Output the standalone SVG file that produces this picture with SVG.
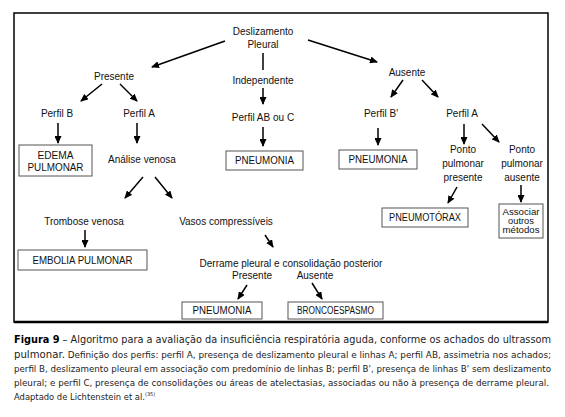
<svg xmlns="http://www.w3.org/2000/svg" width="565" height="417" viewBox="0 0 565 417">
<defs>
<marker id="ah" markerUnits="userSpaceOnUse" markerWidth="8" markerHeight="7" refX="7" refY="3.5" orient="auto">
<path d="M0,0 L8,3.5 L0,7 z" fill="#000"/>
</marker>
<style>
.t{font-family:"Liberation Sans",Arial,sans-serif;font-size:10px;fill:#111;text-anchor:middle}
.s{font-size:9.3px}
.u{font-size:10px}
.b{fill:#fff;stroke:#555;stroke-width:1}
.c line{stroke:#000;stroke-width:1.5}
.a{marker-end:url(#ah)}
.cap{font-family:"DejaVu Sans",sans-serif;fill:#222}
</style>
</defs>
<rect width="565" height="417" fill="#fff"/>
<rect x="14" y="13" width="534" height="309" fill="none" stroke="#000" stroke-width="1.5"/>
<line x1="14" y1="322" x2="548" y2="322" stroke="#000" stroke-width="2.5"/>

<g class="c">
<line class="a" x1="225" y1="41" x2="152" y2="67"/>
<line class="a" x1="308" y1="40" x2="377" y2="62"/>
<line x1="263" y1="53" x2="263" y2="70"/>
<line class="a" x1="263" y1="88" x2="263" y2="104"/>
<line class="a" x1="263" y1="127" x2="263" y2="146"/>
<line class="a" x1="102" y1="84" x2="81" y2="101"/>
<line class="a" x1="120" y1="84" x2="137" y2="101"/>
<line class="a" x1="58" y1="123" x2="58" y2="143"/>
<line class="a" x1="137" y1="123" x2="137" y2="143"/>
<line class="a" x1="143" y1="177" x2="125" y2="198"/>
<line class="a" x1="155" y1="177" x2="172" y2="198"/>
<line class="a" x1="85" y1="230" x2="85" y2="247"/>
<line class="a" x1="265" y1="235" x2="273" y2="247"/>
<line class="a" x1="247" y1="285" x2="238" y2="299"/>
<line class="a" x1="312" y1="283" x2="322" y2="299"/>
<line class="a" x1="403" y1="80" x2="391" y2="97"/>
<line class="a" x1="422" y1="80" x2="438" y2="97"/>
<line class="a" x1="378" y1="128" x2="378" y2="145"/>
<line class="a" x1="464" y1="124" x2="464" y2="144"/>
<line class="a" x1="482" y1="124" x2="499" y2="142"/>
<line class="a" x1="457" y1="187" x2="448" y2="203"/>
<line class="a" x1="521" y1="185" x2="521" y2="202"/>
</g>

<g id="deslizamento"><text class="t" x="263" y="35">Deslizamento</text><text class="t" x="263" y="48">Pleural</text></g>
<g id="presente"><text class="t" x="114" y="80">Presente</text></g>
<g id="independente"><text class="t" x="263" y="84">Independente</text></g>
<g id="ausente"><text class="t" x="407" y="76">Ausente</text></g>
<g id="perfilB"><text class="t" x="57" y="117">Perfil B</text></g>
<g id="perfilA1"><text class="t" x="139" y="117">Perfil A</text></g>
<g id="perfilABC"><text class="t" x="263" y="121">Perfil AB ou C</text></g>
<g id="perfilB2"><text class="t" x="381" y="117">Perfil B'</text></g>
<g id="perfilA2"><text class="t" x="462" y="117">Perfil A</text></g>
<g id="edema"><rect class="b" x="19" y="145" width="73" height="31"/><text class="t u" x="55.5" y="158.5" textLength="36" lengthAdjust="spacingAndGlyphs">EDEMA</text><text class="t u" x="55.5" y="170.5" textLength="56" lengthAdjust="spacingAndGlyphs">PULMONAR</text></g>
<g id="analise"><text class="t" x="142" y="162.5">Análise venosa</text></g>
<g id="pneumonia1"><rect class="b" x="226" y="151" width="77" height="19"/><text class="t u" x="264.5" y="164" textLength="59" lengthAdjust="spacingAndGlyphs">PNEUMONIA</text></g>
<g id="pneumonia2"><rect class="b" x="339" y="150" width="78" height="19"/><text class="t u" x="378" y="163" textLength="59" lengthAdjust="spacingAndGlyphs">PNEUMONIA</text></g>
<g id="pontoPresente"><text class="t" x="463" y="153">Ponto</text><text class="t" x="463" y="167">pulmonar</text><text class="t" x="463" y="181">presente</text></g>
<g id="pontoAusente"><text class="t" x="522" y="153">Ponto</text><text class="t" x="522" y="167">pulmonar</text><text class="t" x="522" y="181">ausente</text></g>
<g id="pneumotorax"><rect class="b" x="382" y="208" width="86" height="19"/><text class="t u" x="425" y="221" textLength="72" lengthAdjust="spacingAndGlyphs">PNEUMOTÓRAX</text></g>
<g id="associar"><rect class="b" x="499" y="204" width="44" height="34"/><text class="t s" x="521" y="215" textLength="37" lengthAdjust="spacingAndGlyphs">Associar</text><text class="t s" x="521" y="224">outros</text><text class="t s" x="521" y="233" textLength="37" lengthAdjust="spacingAndGlyphs">métodos</text></g>
<g id="trombose"><text class="t" x="84" y="224.5">Trombose venosa</text></g>
<g id="vasos"><text class="t" x="226" y="224.5">Vasos compressíveis</text></g>
<g id="embolia"><rect class="b" x="18" y="250" width="129" height="20"/><text class="t u" x="82.5" y="263.5" textLength="100" lengthAdjust="spacingAndGlyphs">EMBOLIA PULMONAR</text></g>
<g id="derrame"><text class="t" x="291" y="266.5">Derrame pleural e consolidação posterior</text><text class="t" x="252" y="278.5">Presente</text><text class="t" x="315" y="278.5">Ausente</text></g>
<g id="pneumonia3"><rect class="b" x="182" y="302" width="80" height="17"/><text class="t u" x="222" y="314" textLength="59" lengthAdjust="spacingAndGlyphs">PNEUMONIA</text></g>
<g id="bronco"><rect class="b" x="288" y="302" width="95" height="17"/><text class="t u" x="335.5" y="314" textLength="77" lengthAdjust="spacingAndGlyphs">BRONCOESPASMO</text></g>

<g id="caption" class="cap">
<text x="14" y="343" font-size="9.6" textLength="537" lengthAdjust="spacingAndGlyphs"><tspan font-weight="bold" fill="#000">Figura 9</tspan> – Algoritmo para a avaliação da insuficiência respiratória aguda, conforme os achados do ultrassom</text>
<text x="14" y="357.5" font-size="8.4" textLength="537" lengthAdjust="spacingAndGlyphs"><tspan font-size="9.6">pulmonar.</tspan> Definição dos perfis: perfil A, presença de deslizamento pleural e linhas A; perfil AB, assimetria nos achados;</text>
<text x="14" y="371.5" font-size="8.4" textLength="537" lengthAdjust="spacingAndGlyphs">perfil B, deslizamento pleural em associação com predomínio de linhas B; perfil B', presença de linhas B' sem deslizamento</text>
<text x="14" y="385.5" font-size="8.4" textLength="535" lengthAdjust="spacingAndGlyphs">pleural; e perfil C, presença de consolidações ou áreas de atelectasias, associadas ou não à presença de derrame pleural.</text>
<text x="14" y="399.5" font-size="8.4">Adaptado de Lichtenstein et al.<tspan font-size="5" dy="-4">(35)</tspan></text>
</g>
</svg>
